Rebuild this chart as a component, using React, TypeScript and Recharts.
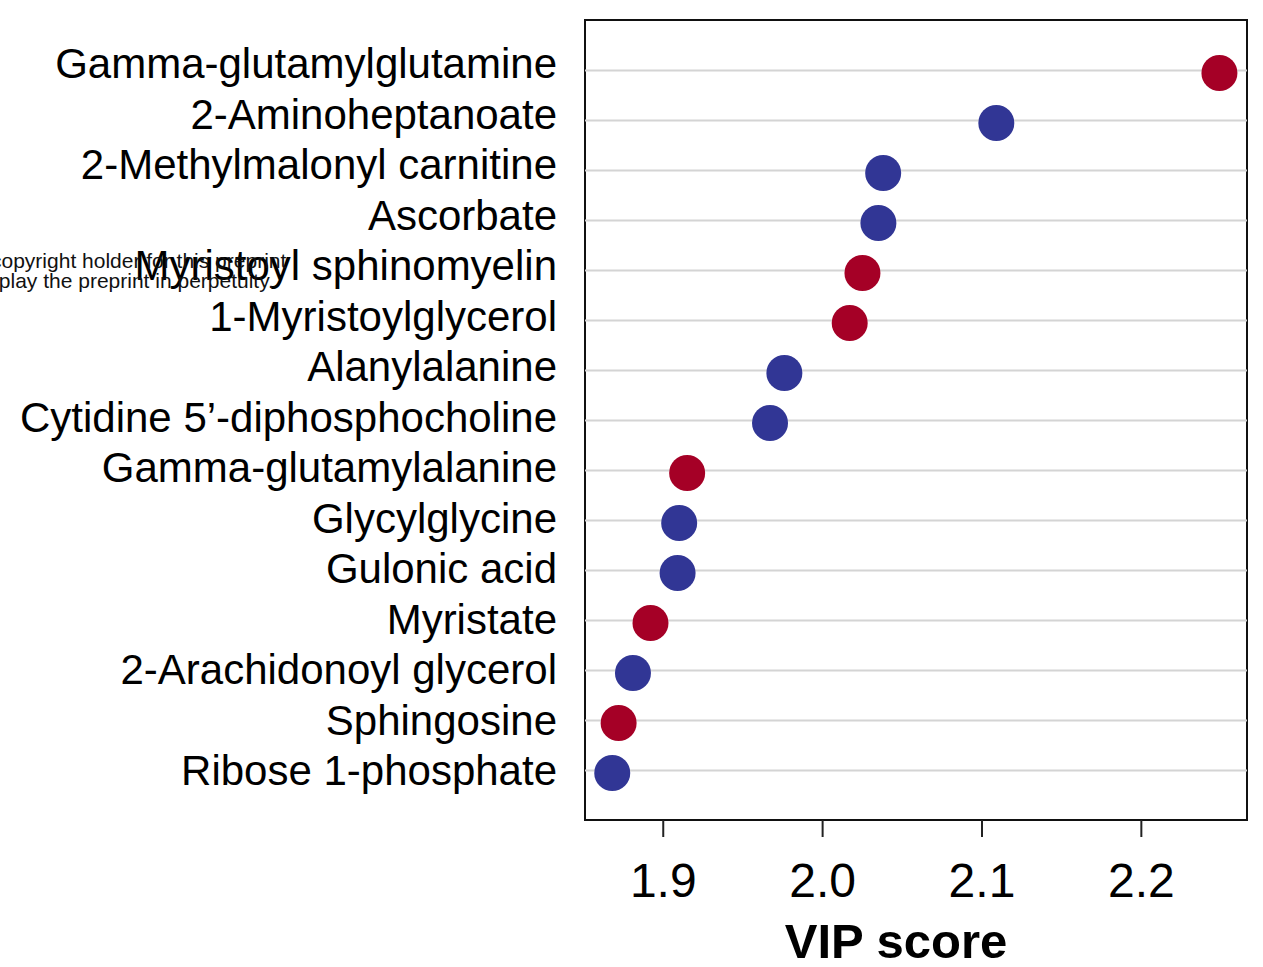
import React from 'react'
import { ScatterChart, Scatter, XAxis, YAxis, ReferenceLine, ReferenceArea, Label } from 'recharts'

// top to bottom, as listed on the chart
const metabolites = [
  'Gamma-glutamylglutamine',
  '2-Aminoheptanoate',
  '2-Methylmalonyl carnitine',
  'Ascorbate',
  'Myristoyl sphinomyelin',
  '1-Myristoylglycerol',
  'Alanylalanine',
  'Cytidine 5\u2019-diphosphocholine',
  'Gamma-glutamylalanine',
  'Glycylglycine',
  'Gulonic acid',
  'Myristate',
  '2-Arachidonoyl glycerol',
  'Sphingosine',
  'Ribose 1-phosphate',
]
const vipScores = [2.249, 2.109, 2.038, 2.035, 2.025, 2.017, 1.976, 1.967, 1.915, 1.910, 1.909, 1.892, 1.881, 1.872, 1.868]
const direction = ['up', 'down', 'down', 'down', 'up', 'up', 'down', 'down', 'up', 'down', 'down', 'up', 'down', 'up', 'down']
const xTicks = [1.9, 2.0, 2.1, 2.2]

const colors: Record<string, string> = { up: '#A50026', down: '#313695' }
const font = '"Liberation Sans", Arial, sans-serif'

const X_MIN = 1.8509
const X_MAX = 2.2663
const Y_MIN = 0.06
const Y_MAX = 16.06

const rows = metabolites.map((name, i) => ({
  name,
  vip: vipScores[i],
  rank: metabolites.length - i,
  group: direction[i],
}))
const rankTicks = rows.map(r => r.rank)

const Dot = (props: any) => (
  <circle cx={props.cx} cy={props.cy} r={18} fill={colors[props.payload.group]} />
)

const YTick = (props: any) => {
  const idx = rows.findIndex(r => r.rank === props.payload.value)
  // labels in the original drift a touch lower than the grid going down
  const drift = 5 + idx * 0.5
  return (
    <text x={props.x} y={props.y + drift} textAnchor="end" fontSize={42} fontFamily={font} fill="#000">
      {idx >= 0 ? rows[idx].name : ''}
    </text>
  )
}

const XTick = (props: any) => (
  <text x={props.x} y={props.y + 60} textAnchor="middle" fontSize={48} fontFamily={font} fill="#000">
    {props.payload.value.toFixed(1)}
  </text>
)

export default function App() {
  return (
    <div style={{ position: 'absolute', left: 0, top: 0, width: 1263, height: 967, background: '#fff' }}>
      <ScatterChart width={1263} height={967} margin={{ top: 20, right: 16, bottom: 0, left: 0 }}>
        <XAxis
          type="number"
          dataKey="vip"
          domain={[X_MIN, X_MAX]}
          allowDataOverflow
          ticks={xTicks}
          height={147}
          axisLine={false}
          tickSize={17}
          tickMargin={0}
          tickLine={{ stroke: '#222', strokeWidth: 2 }}
          tick={<XTick />}
        >
          <Label
            content={(p: any) => (
              <text
                x={p.viewBox.x + p.viewBox.width / 2 - 20}
                y={958}
                textAnchor="middle"
                fontSize={49}
                fontWeight="bold"
                fontFamily={font}
                fill="#000"
              >
                VIP score
              </text>
            )}
          />
        </XAxis>
        <YAxis
          type="number"
          dataKey="rank"
          domain={[Y_MIN, Y_MAX]}
          ticks={rankTicks}
          width={585}
          axisLine={false}
          tickLine={false}
          tickSize={0}
          tickMargin={28}
          tick={<YTick />}
          interval={0}
        />
        {rankTicks.map(r => (
          <ReferenceLine key={r} y={r + 0.05} stroke="#d4d4d4" strokeWidth={2} />
        ))}
        <ReferenceArea x1={X_MIN} x2={X_MAX} y1={Y_MIN} y2={Y_MAX} fill="none" stroke="#111" strokeWidth={2} />
        <Scatter data={rows} shape={<Dot />} isAnimationActive={false} />
      </ScatterChart>
      <svg width={1263} height={967} style={{ position: 'absolute', left: 0, top: 0, pointerEvents: 'none' }}>
        <text x={-9} y={268} fontSize={21} fontFamily={font} fill="#111">copyright holder for this preprint</text>
        <text x={-28} y={288} fontSize={21} fontFamily={font} fill="#111">display the preprint in perpetuity.</text>
      </svg>
    </div>
  )
}
